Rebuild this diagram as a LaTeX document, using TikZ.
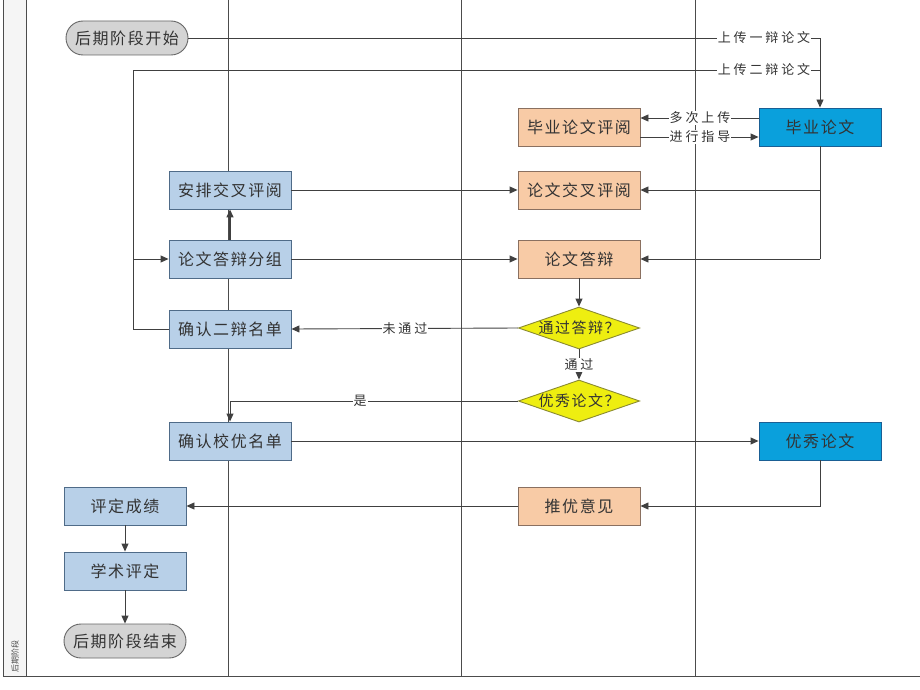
\documentclass[tikz,border=0pt]{standalone}
\usepackage{fontspec}
\setmainfont{Noto Sans CJK SC}
\newfontfamily\boxfont[LetterSpace=10]{Noto Sans CJK SC}
\newfontfamily\labfont[LetterSpace=22]{Noto Sans CJK SC}
\usetikzlibrary{arrows.meta,shapes.geometric}
\definecolor{lblue}{HTML}{B8D0E8}
\definecolor{lblueb}{HTML}{4F6B88}
\definecolor{dblue}{HTML}{0AA0DC}
\definecolor{dblueb}{HTML}{1A5F94}
\definecolor{orng}{HTML}{F8CBA6}
\definecolor{orngb}{HTML}{8A7060}
\definecolor{ylw}{HTML}{EEEE10}
\definecolor{ylwb}{HTML}{8A8A30}
\definecolor{gry}{HTML}{D4D4D4}
\definecolor{lnc}{HTML}{404040}
\begin{document}
\begin{tikzpicture}[x=1pt,y=-1pt,
  every node/.style={text=black!80},
  boxbase/.style={draw, minimum width=122pt, minimum height=38pt, inner sep=0pt, line width=0.9pt, font=\boxfont\fontsize{16}{18}\selectfont},
  bluebox/.style={boxbase, fill=lblue, draw=lblueb},
  dbluebox/.style={boxbase, fill=dblue, draw=dblueb},
  orbox/.style={boxbase, fill=orng, draw=orngb},
  term/.style={boxbase, fill=gry, draw=black!60, rounded corners=17pt, minimum height=34pt},
  dec/.style={diamond, draw=ylwb, fill=ylw, line width=0.9pt, minimum width=120pt, minimum height=42pt, inner sep=0pt, aspect=2.9, font=\boxfont\fontsize{15}{17}\selectfont},
  ln/.style={draw=lnc, line width=0.9pt},
  arr/.style={ln, -{Triangle[length=8pt,width=7pt]}},
  lab/.style={fill=white, inner sep=1pt, font=\labfont\fontsize{13}{15}\selectfont}
]
\useasboundingbox (0,0) rectangle (920,690);
% swimlane frame
\fill[black!4] (3,0) rectangle (26,676);
\draw[black!70, line width=0.9pt] (3,0) -- (3,676) -- (920,676);
\draw[black!70, line width=0.9pt] (26,0) -- (26,676);
\draw[black!70, line width=0.9pt] (228,0) -- (228,676);
\draw[black!70, line width=0.9pt] (461,0) -- (461,676);
\draw[black!70, line width=0.9pt] (695,0) -- (695,676);
\node[rotate=90, font=\fontsize{8}{9}\selectfont, text=black!70] (lane) at (15,656) {后期阶段};

% nodes
\node[term] (start) at (127,38) {后期阶段开始};
\node[dbluebox] (bylw) at (820,127) {毕业论文};
\node[orbox] (bypy) at (579,127) {毕业论文评阅};
\node[bluebox] (apjc) at (230,190) {安排交叉评阅};
\node[orbox] (lwjc) at (579,190) {论文交叉评阅};
\node[bluebox] (dbfz) at (230,259) {论文答辩分组};
\node[orbox] (lwdb) at (579,259) {论文答辩};
\node[bluebox] (qrem) at (230,329) {确认二辩名单};
\node[dec] (tgdb) at (579,328) {通过答辩？};
\node[dec] (yxlw) at (579,401) {优秀论文？};
\node[bluebox] (qrxy) at (230,441) {确认校优名单};
\node[dbluebox] (yxlwb) at (820,441) {优秀论文};
\node[orbox] (tyyj) at (579,506) {推优意见};
\node[bluebox] (pdcj) at (125,506) {评定成绩};
\node[bluebox] (xspd) at (125,571) {学术评定};
\node[term] (end) at (125,641) {后期阶段结束};

% coordinates
\coordinate (c1) at (820,38);
\coordinate (c2) at (133,329);
\coordinate (c3) at (133,70);
\coordinate (c4) at (820,70);
\coordinate (c5) at (133,259);
\coordinate (c6) at (820,190);
\coordinate (c7) at (820,259);
\coordinate (c8) at (230,401);
\coordinate (c9) at (820,506);

% connectors
\draw[arr] (start.east) -- (c1) -- (bylw.north);
\node[lab] (l1) at (764,38) {上传一辩论文};
\draw[ln] (qrem.west) -- (c2) -- (c3) -- (c4);
\node[lab] (l2) at (764,70) {上传二辩论文};
\draw[arr] (c5) -- (dbfz.west);
\draw[arr] (bylw.west |- 0,118) -- (bypy.east |- 0,118);
\node[lab] (l3) at (700,118) {多次上传};
\draw[arr] (bypy.east |- 0,137) -- (bylw.west |- 0,137);
\node[lab] (l4) at (700,137) {进行指导};
\draw[ln] (bylw.south) -- (c7);
\draw[arr] (c6) -- (lwjc.east);
\draw[arr] (c7) -- (lwdb.east);
\draw[arr] (apjc.east) -- (lwjc.west);
\draw[arr, line width=1.4pt] (dbfz.north) -- (apjc.south);
\draw[arr] (dbfz.east) -- (lwdb.west);
\draw[arr] (lwdb.south) -- (tgdb.north);
\draw[arr] (tgdb.west) -- (qrem.east);
\node[lab] (l5) at (405,329) {未通过};
\draw[arr] (tgdb.south) -- (yxlw.north);
\node[lab] (l6) at (579,365) {通过};
\draw[arr] (yxlw.west) -- (c8) -- (qrxy.north);
\node[lab] (l7) at (360,401) {是};
\draw[arr] (qrxy.east) -- (yxlwb.west);
\draw[arr] (yxlwb.south) -- (c9) -- (tyyj.east);
\draw[arr] (tyyj.west) -- (pdcj.east);
\draw[arr] (pdcj.south) -- (xspd.north);
\draw[arr] (xspd.south) -- (end.north);
\end{tikzpicture}
\end{document}
